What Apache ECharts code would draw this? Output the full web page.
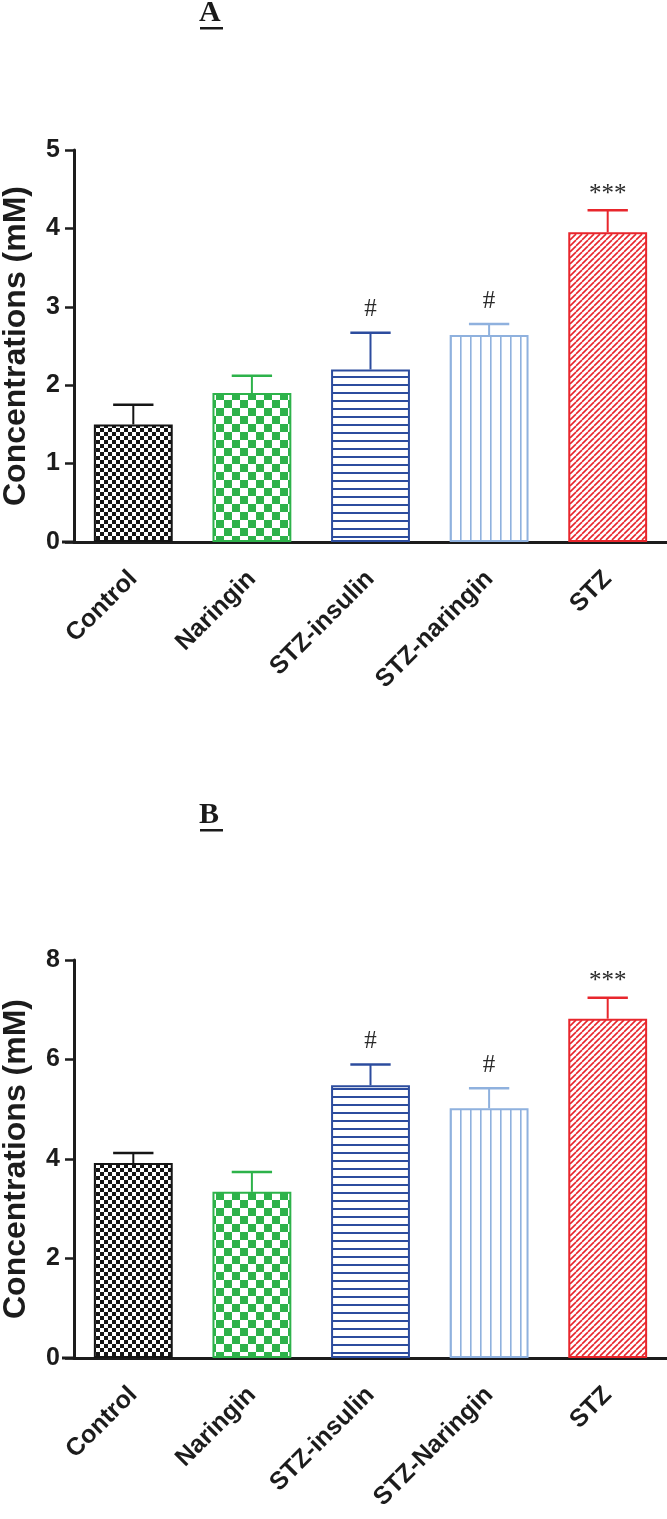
<!DOCTYPE html>
<html>
<head>
<meta charset="utf-8">
<script src="https://cdn.jsdelivr.net/npm/echarts@6/dist/echarts.min.js"></script>
<style>
html,body{margin:0;padding:0;background:#fff;}
#chart{width:667px;height:1519px;}
</style>
</head>
<body>
<div id="chart"></div>
<script>
// ---------- data ----------
const categoriesA = ['Control', 'Naringin', 'STZ-insulin', 'STZ-naringin', 'STZ'];
const meansA = [1.50, 1.90, 2.20, 2.64, 3.95];
const errorsA = [0.25, 0.22, 0.47, 0.14, 0.28];
const marksA = ['', '', '#', '#', '***'];
const yTicksA = { min: 0, max: 5, interval: 1 };

const categoriesB = ['Control', 'Naringin', 'STZ-insulin', 'STZ-Naringin', 'STZ'];
const meansB = [3.92, 3.34, 5.48, 5.02, 6.82];
const errorsB = [0.20, 0.40, 0.42, 0.40, 0.42];
const marksB = ['', '', '#', '#', '***'];
const yTicksB = { min: 0, max: 8, interval: 2 };

const panelTitles = ['A', 'B'];
const yAxisName = 'Concentrations (mM)';

// ---------- styles ----------
const colors = ['#151515', '#2db24a', '#2c4c9e', '#8fb1de', '#e8262c'];
const AXIS = '#1c1c1c';
const SANS = '"Liberation Sans", Arial, sans-serif';

function mk(w, h, draw) {
  const c = document.createElement('canvas');
  c.width = w; c.height = h;
  const ctx = c.getContext('2d');
  ctx.fillStyle = '#fff'; ctx.fillRect(0, 0, w, h);
  draw(ctx);
  return { image: c, repeat: 'repeat' };
}
function checker(s, col) {
  return mk(2 * s, 2 * s, ctx => { ctx.fillStyle = col; ctx.fillRect(0, 0, s, s); ctx.fillRect(s, s, s, s); });
}
function hLines(p, lw, col) {
  return mk(p, p, ctx => { ctx.fillStyle = col; ctx.fillRect(0, 0, p, lw); });
}
function vLines(p, lw, col) {
  return mk(p, p, ctx => { ctx.fillStyle = col; ctx.fillRect(0, 0, lw, p); });
}
function diag(p, lw, col) {
  return mk(p, p, ctx => {
    ctx.strokeStyle = col; ctx.lineWidth = lw;
    for (let k = -1; k <= 1; k++) { ctx.beginPath(); ctx.moveTo(k * p, p); ctx.lineTo(k * p + p, 0); ctx.stroke(); }
  });
}
const patterns = [
  checker(4, colors[0]),
  checker(8, colors[1]),
  hLines(8, 2, colors[2]),
  vLines(10, 1.6, colors[3]),
  diag(6, 1.6, colors[4])
];

const grids = [
  { left: 74, right: 0, top: 150, height: 392, outerBoundsMode: 'none', containLabel: false },
  { left: 74, right: 0, top: 960, height: 398, outerBoundsMode: 'none', containLabel: false }
];

function xAxisFor(cats, gi) {
  return {
    type: 'category', gridIndex: gi, data: cats,
    axisLine: { lineStyle: { color: AXIS, width: 3 } },
    axisTick: { alignWithLabel: true, length: 10, lineStyle: { color: AXIS, width: 3 } },
    axisLabel: { rotate: 45, margin: 33, color: AXIS, fontFamily: SANS, fontWeight: 'bold', fontSize: 25, interval: 0 }
  };
}
function yAxisFor(t, gi) {
  return {
    type: 'value', gridIndex: gi, min: t.min, max: t.max, interval: t.interval,
    name: yAxisName, nameLocation: 'middle', nameRotate: 90, nameGap: 42,
    nameTextStyle: { color: AXIS, fontFamily: SANS, fontWeight: 'bold', fontSize: 32 },
    splitLine: { show: false },
    axisLine: { show: true, lineStyle: { color: AXIS, width: 3 } },
    axisTick: { show: true, length: 9, lineStyle: { color: AXIS, width: 2.5 } },
    axisLabel: { margin: 14, color: AXIS, fontFamily: SANS, fontWeight: 'bold', fontSize: 25 }
  };
}
function barSeries(means, gi) {
  return {
    type: 'bar', xAxisIndex: gi, yAxisIndex: gi, barWidth: '66.5%',
    data: means.map((v, i) => ({
      value: v,
      itemStyle: { color: patterns[i], borderColor: colors[i], borderWidth: 2 }
    })),
    silent: true, animation: false
  };
}
function errSeries(means, errs, marks, gi) {
  return {
    type: 'custom', xAxisIndex: gi, yAxisIndex: gi, z: 5, animation: false, silent: true,
    data: means.map((v, i) => [i, v, errs[i]]),
    renderItem: function (params, api) {
      const i = params.dataIndex;
      const x = api.value(0), m = api.value(1), e = api.value(2);
      const p0 = api.coord([x, m]);
      const p1 = api.coord([x, m + e]);
      const half = api.size([1, 0])[0] * 0.17;
      const col = colors[i];
      const children = [
        { type: 'line', shape: { x1: p0[0], y1: p0[1], x2: p1[0], y2: p1[1] }, style: { stroke: col, lineWidth: 2 } },
        { type: 'line', shape: { x1: p1[0] - half, y1: p1[1], x2: p1[0] + half, y2: p1[1] }, style: { stroke: col, lineWidth: 2.5 } }
      ];
      const mark = marks[i];
      if (mark) {
        const off = mark === '#' ? 23 : 16;
        children.push({
          type: 'text', x: p1[0], y: p1[1] - off,
          style: { text: mark, font: '25px "Liberation Serif"', fill: '#2a2a2a',
                   align: 'center', verticalAlign: 'middle', textAlign: 'center', textVerticalAlign: 'middle' }
        });
      }
      return { type: 'group', children: children };
    }
  };
}

const chart = echarts.init(document.getElementById('chart'), null, { renderer: 'canvas' });
const option = {
  backgroundColor: '#fff',
  animation: false,
  grid: grids,
  xAxis: [xAxisFor(categoriesA, 0), xAxisFor(categoriesB, 1)],
  yAxis: [yAxisFor(yTicksA, 0), yAxisFor(yTicksB, 1)],
  series: [
    barSeries(meansA, 0), errSeries(meansA, errorsA, marksA, 0),
    barSeries(meansB, 1), errSeries(meansB, errorsB, marksB, 1)
  ]
};
chart.setOption(option);

// panel titles (underlined) and the x-axis stub left of the y axis
function decorations() {
  const g = [];
  const titleY = [12, 814];
  panelTitles.forEach((t, k) => {
    g.push({ type: 'text', left: 211 - 12, top: titleY[k] - 14,
      style: { text: t, font: 'bold 30px "Liberation Serif"', fill: '#1a1a1a' } });
    g.push({ type: 'rect', shape: { x: 200, y: titleY[k] + 15, width: 23, height: 2.5 }, style: { fill: '#1a1a1a' } });
  });
  [0, 1].forEach(gi => {
    const y0 = chart.convertToPixel({ yAxisIndex: gi }, 0);
    const xa = chart.convertToPixel({ xAxisIndex: gi }, 0) - api_half(gi);
    g.push({ type: 'line', shape: { x1: xa - 12, y1: y0, x2: xa + 2, y2: y0 }, style: { stroke: AXIS, lineWidth: 3 } });
  });
  return g;
}
function api_half(gi) {
  const a = chart.convertToPixel({ xAxisIndex: gi }, 0);
  const b = chart.convertToPixel({ xAxisIndex: gi }, 1);
  return (b - a) / 2;
}
chart.setOption({ graphic: decorations() });
</script>
</body>
</html>
